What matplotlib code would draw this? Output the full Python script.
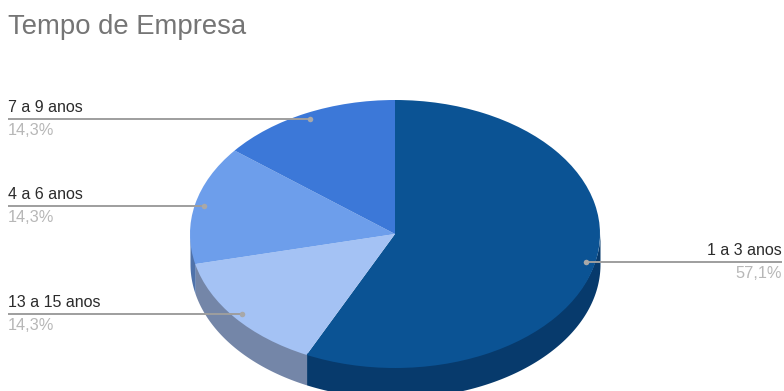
import numpy as np
import matplotlib
matplotlib.use('Agg')
import matplotlib.pyplot as plt

plt.rcParams['font.family'] = ['Liberation Sans', 'DejaVu Sans']

# tenure groups, clockwise from the top of the pie
categories = ['1 a 3 anos', '13 a 15 anos', '4 a 6 anos', '7 a 9 anos']
shares = [57.1, 14.3, 14.3, 14.3]
top_colors = ['#0b5394', '#a4c2f4', '#6d9eeb', '#3c78d8']
side_colors = ['#073a6c', '#7486a8', '#4f72aa', '#2b569b']

W, H = 784, 391
CX, CY = 395, 234   # pie centre in pixels
RX, RY = 205, 134   # ellipse radii in pixels
DEPTH = 30

fig = plt.figure(figsize=(W / 100, H / 100), dpi=100)

# pie axes: one data unit is the squashed radius, so the circle comes out tilted
ax = fig.add_axes([0, 0, 1, 1])
ax.pie(shares, colors=top_colors, startangle=90, counterclock=False,
       radius=1, center=(0, 0), wedgeprops={'linewidth': 0})
ax.set_aspect('auto')
ax.set_xlim(-CX / RX, (W - CX) / RX)
ax.set_ylim((CY - H) / RY, CY / RY)
ax.axis('off')

# side wall below the rim, one strip per slice; starts a little inside the top
# face so no white seam shows along the edge
edges = np.concatenate([[0], np.cumsum(shares)]) / sum(shares) * 2 * np.pi
for a0, a1, col in zip(edges[:-1], edges[1:], side_colors):
    lo, hi = max(a0, np.pi / 2), min(a1, 3 * np.pi / 2)
    if hi <= lo:
        continue
    t = np.linspace(lo, hi, 120)
    x = np.sin(t)
    y = np.cos(t)
    ax.fill_between(x, y + 0.02, y - DEPTH / RY, color=col, linewidth=0, zorder=0.5)

# overlay in pixel coordinates for the title and the leader lines
ov = fig.add_axes([0, 0, 1, 1], facecolor='none')
ov.set_xlim(0, W)
ov.set_ylim(H, 0)
ov.axis('off')

ov.text(8, 27, 'Tempo de Empresa', fontsize=19.8, color='#757575', va='center')

mids = (edges[:-1] + edges[1:]) / 2
for name, share, mid in zip(categories, shares, mids):
    px = CX + 0.955 * RX * np.sin(mid)
    py = CY - 0.955 * RY * np.cos(mid)
    right = px > CX
    x_end = W - 2 if right else 8
    ov.plot([px, x_end], [py, py], color='#9e9e9e', lw=1.4, solid_capstyle='butt')
    ov.plot(px, py, 'o', ms=4, color='#a8a8a8', mec='none')
    ha = 'right' if right else 'left'
    pct = f'{share:.1f}%'.replace('.', ',')
    ov.text(x_end, py - 11.5, name, fontsize=11.5, color='#2b2b2b', ha=ha, va='center')
    ov.text(x_end, py + 11.5, pct, fontsize=11.8, color='#b7b7b7', ha=ha, va='center')

fig.savefig('out.png', dpi=100, facecolor='white')
